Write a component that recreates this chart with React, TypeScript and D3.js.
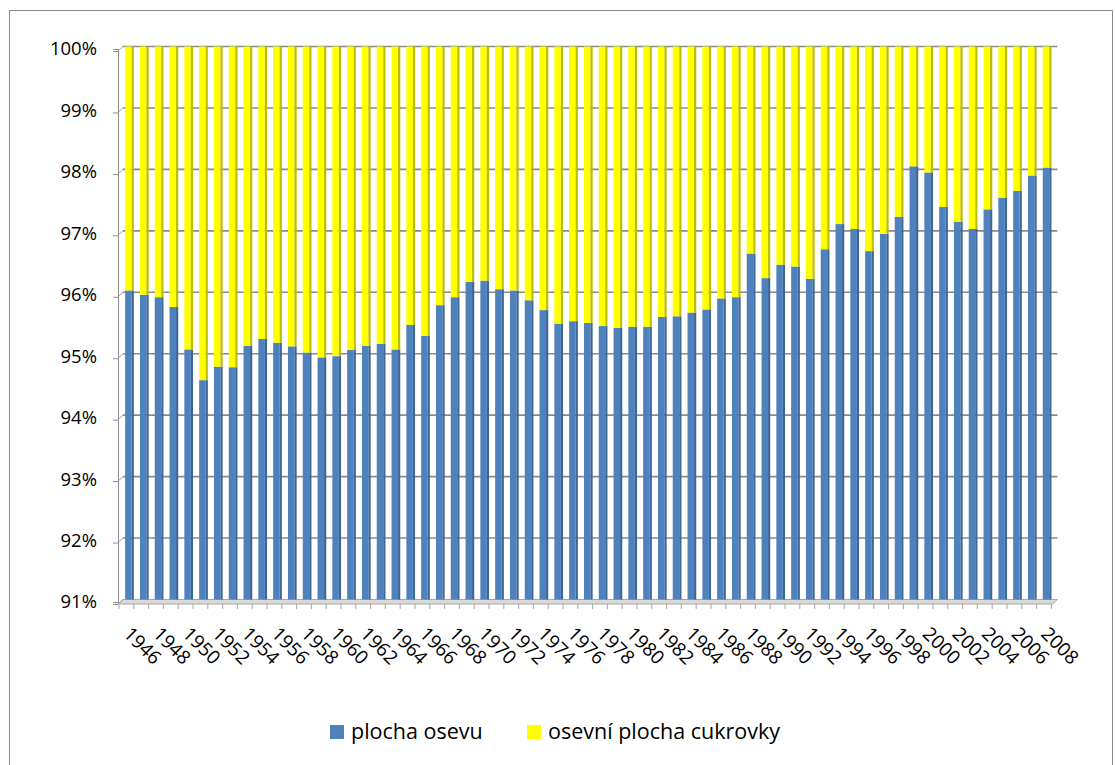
import React, { useEffect, useRef } from 'react';
import * as d3 from 'd3';

const years = [
  1946, 1947, 1948, 1949, 1950, 1951, 1952, 1953, 1954, 1955,
  1956, 1957, 1958, 1959, 1960, 1961, 1962, 1963, 1964, 1965,
  1966, 1967, 1968, 1969, 1970, 1971, 1972, 1973, 1974, 1975,
  1976, 1977, 1978, 1979, 1980, 1981, 1982, 1983, 1984, 1985,
  1986, 1987, 1988, 1989, 1990, 1991, 1992, 1993, 1994, 1995,
  1996, 1997, 1998, 1999, 2000, 2001, 2002, 2003, 2004, 2005,
  2006, 2007, 2008,
];

// share of sown area (%)
const plochaOsevu = [
  96.03, 95.96, 95.92, 95.76, 95.07, 94.57, 94.79, 94.78, 95.13, 95.24,
  95.18, 95.12, 95.02, 94.94, 94.96, 95.06, 95.13, 95.16, 95.07, 95.47,
  95.29, 95.79, 95.92, 96.17, 96.19, 96.05, 96.03, 95.87, 95.71, 95.49,
  95.53, 95.50, 95.45, 95.42, 95.44, 95.44, 95.60, 95.61, 95.67, 95.72,
  95.90, 95.92, 96.63, 96.23, 96.45, 96.42, 96.22, 96.70, 97.11, 97.03,
  96.67, 96.95, 97.23, 98.05, 97.95, 97.39, 97.15, 97.03, 97.35, 97.54,
  97.65, 97.90, 98.03,
];

const cukrovka = [
  3.97, 4.04, 4.08, 4.24, 4.93, 5.43, 5.21, 5.22, 4.87, 4.76,
  4.82, 4.88, 4.98, 5.06, 5.04, 4.94, 4.87, 4.84, 4.93, 4.53,
  4.71, 4.21, 4.08, 3.83, 3.81, 3.95, 3.97, 4.13, 4.29, 4.51,
  4.47, 4.50, 4.55, 4.58, 4.56, 4.56, 4.40, 4.39, 4.33, 4.28,
  4.10, 4.08, 3.37, 3.77, 3.55, 3.58, 3.78, 3.30, 2.89, 2.97,
  3.33, 3.05, 2.77, 1.95, 2.05, 2.61, 2.85, 2.97, 2.65, 2.46,
  2.35, 2.10, 1.97,
];

const yTicks = [0.91, 0.92, 0.93, 0.94, 0.95, 0.96, 0.97, 0.98, 0.99, 1.0];
const seriesNames = ['plocha osevu', 'osevní plocha cukrovky'];
const colors = ['#4F81BD', '#FFFF00'];
const sideColors = ['#3B6699', '#BDBD00'];

const App = () => {
  const ref = useRef<SVGSVGElement>(null);

  useEffect(() => {
    const svg = d3.select(ref.current);
    svg.selectAll('*').remove();
    const font = '"Open Sans", sans-serif';
    const dx = 5;
    const dy = 4.5;

    svg.append('rect')
      .attr('x', 9.5).attr('y', 10.5)
      .attr('width', 1103).attr('height', 762)
      .attr('fill', '#fff').attr('stroke', '#8c8c8c');

    const x = d3.scaleBand<number>()
      .domain(years)
      .range([122, 122 + years.length * 14.8]);
    const step = x.bandwidth();
    const y = d3.scaleLinear().domain([0.91, 1]).range([599.5, 46.5]).clamp(true);
    const left = x.range()[0];
    const right = x.range()[1] + 2;

    // floor
    svg.append('polygon')
      .attr('points', `${left - 4},${y(0.91) + dy} ${left + 1},${y(0.91)} ${right + 1},${y(0.91)} ${right - 4},${y(0.91) + dy}`)
      .attr('fill', '#d9d9d9').attr('stroke', '#a6a6a6');

    // back wall gridlines
    svg.append('g').selectAll('line')
      .data(yTicks.slice(1))
      .join('line')
      .attr('x1', left + 1).attr('x2', right + 1)
      .attr('y1', d => y(d)).attr('y2', d => y(d))
      .attr('stroke', '#8a8a8a').attr('stroke-width', 1.6);

    // left wall edge connectors
    svg.append('g').selectAll('line')
      .data(yTicks)
      .join('line')
      .attr('x1', left - 4).attr('x2', left + 1)
      .attr('y1', d => y(d) + dy).attr('y2', d => y(d))
      .attr('stroke', '#a6a6a6').attr('stroke-width', 1);

    // y axis
    const yAxis = svg.append('g')
      .attr('transform', `translate(${left - 4},${dy - 2})`)
      .call(d3.axisLeft(y).tickValues(yTicks).tickSize(5).tickPadding(16).tickFormat(d3.format('.0%')));
    yAxis.select('.domain').attr('stroke', '#8c8c8c');
    yAxis.selectAll('.tick line').attr('stroke', '#8c8c8c').attr('transform', 'translate(0,2)');
    yAxis.selectAll('text')
      .attr('font-family', font).attr('font-size', 18.5).attr('fill', '#000');

    // stacked bars
    const rows = years.map((yr, i) => ({ year: yr, osev: plochaOsevu[i], cuk: cukrovka[i] }));
    const stack = d3.stack<any>().keys(['osev', 'cuk']).offset(d3.stackOffsetExpand);
    const layers = stack(rows);
    const bw = 6.5;
    const sw = 2.2;

    layers.forEach((layer, k) => {
      const g = svg.append('g');
      g.selectAll('rect.front')
        .data(layer)
        .join('rect')
        .attr('class', 'front')
        .attr('x', d => x(d.data.year)! + step / 2 - bw / 2 - 1)
        .attr('y', d => y(d[1]))
        .attr('width', bw)
        .attr('height', d => y(d[0]) - y(d[1]))
        .attr('fill', colors[k]);
      g.selectAll('rect.side')
        .data(layer)
        .join('rect')
        .attr('class', 'side')
        .attr('x', d => x(d.data.year)! + step / 2 + bw / 2 - 1)
        .attr('y', d => y(d[1]))
        .attr('width', sw)
        .attr('height', d => y(d[0]) - y(d[1]))
        .attr('fill', sideColors[k]);
    });

    // x ticks at band edges
    svg.append('g').selectAll('line')
      .data([...years, null])
      .join('line')
      .attr('x1', (d, i) => left - 3 + i * step)
      .attr('x2', (d, i) => left - 3 + i * step)
      .attr('y1', y(0.91) + dy)
      .attr('y2', y(0.91) + dy + 5)
      .attr('stroke', '#a6a6a6');

    // x labels, every second year
    svg.append('g').selectAll('text')
      .data(years.filter((d, i) => i % 2 === 0))
      .join('text')
      .attr('transform', d => `translate(${x(d)! + step / 2 - 7},635) rotate(45)`)
      .attr('font-family', font).attr('font-size', 19)
      .text(d => String(d));

    // legend
    const legendX = [330, 527];
    const legend = svg.append('g');
    seriesNames.forEach((name, k) => {
      legend.append('rect')
        .attr('x', legendX[k]).attr('y', 725)
        .attr('width', 14).attr('height', 14)
        .attr('fill', colors[k]);
      legend.append('text')
        .attr('x', legendX[k] + 21).attr('y', 739)
        .attr('font-family', font).attr('font-size', 21.5)
        .text(name);
    });
  }, []);

  return (
    <svg
      ref={ref}
      width={1115}
      height={765}
      style={{ position: 'absolute', left: 0, top: 0, display: 'block' }}
    />
  );
};

export default App;
